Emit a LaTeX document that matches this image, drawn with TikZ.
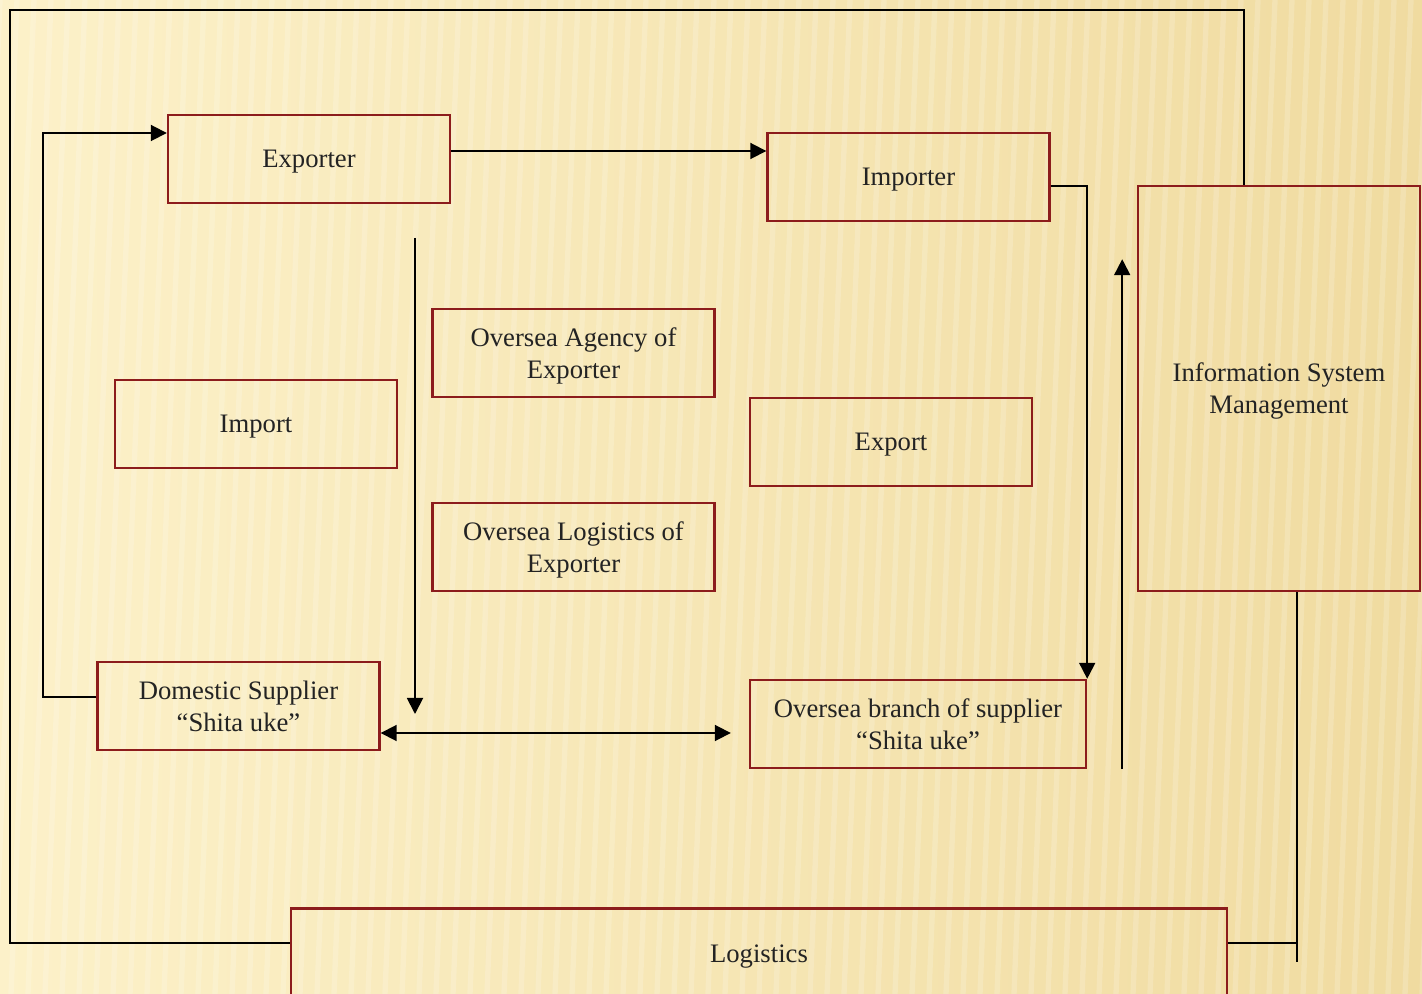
\documentclass[tikz,border=0pt]{standalone}
\usepackage{fontspec}
\setmainfont{Liberation Serif}
\usetikzlibrary{arrows.meta}
\definecolor{boxred}{RGB}{140,28,28}
\definecolor{ink}{RGB}{35,35,35}
\definecolor{paperL}{RGB}{252,241,201}
\definecolor{paperR}{RGB}{240,219,160}
\begin{document}
\begin{tikzpicture}[x=0.75pt,y=-0.75pt,
  box/.style={draw=boxred, line width=1.8pt, minimum width=211.5pt, minimum height=66pt,
    inner sep=0pt, text depth=-1pt, align=center, text=ink, font=\fontsize{20}{24}\selectfont},
  link/.style={line width=1.4pt},
  >={Triangle[length=12pt,width=12pt]}]
\useasboundingbox (0,0) rectangle (1422,994);
% paper
\shade[left color=paperL, right color=paperR] (0,0) rectangle (1422,994);
\foreach \i in {0,17,...,1470}
  \draw[white, opacity=0.18, line width=4pt] (\i,0) -- (\i-40,994);
% boxes
\node[box] (exp) at (309,159) {Exporter};
\node[box] (imp) at (908.5,177) {Importer};
\node[box, minimum height=303.75pt] (ism) at (1279,388.5) {Information System\\Management};
\node[box] (agency) at (573.5,353) {Oversea Agency of\\Exporter};
\node[box] (import) at (256,424) {Import};
\node[box] (export) at (891,442) {Export};
\node[box] (ologi) at (573.5,547) {Oversea Logistics of\\Exporter};
\node[box] (dom) at (238.5,706) {Domestic Supplier\\``Shita uke''};
\node[box, minimum width=252pt] (branch) at (918,724) {Oversea branch of supplier\\``Shita uke''};
\node[box, minimum width=702pt, minimum height=68pt] (logi) at (759,954) {Logistics};
% frame round the picture
\coordinate (top) at (1244,10);
\coordinate (tl) at (10,10);
\coordinate (bl) at (10,943);
\draw[link] (ism.north -| top) -- (top) -- (tl) -- (bl) -- (bl -| logi.west);
% ISM down to logistics
\coordinate (rx) at (1297,962);
\draw[link] (ism.south -| rx) -- (rx);
\draw[link] (logi.east |- bl) -- (bl -| rx);
% supplier back to exporter
\draw[link,->] ([yshift=6.75pt]dom.west) -- ++(-53,0) |- ([yshift=19.5pt]exp.west);
\draw[link,->] ([yshift=6pt]exp.east) -- ([yshift=6pt]exp.east -| imp.west);
\draw[link,->] ([yshift=-6.75pt]imp.east) -| (branch.north east);
% middle flows
\coordinate (v1) at (415,238);
\coordinate (v2) at (415,714);
\draw[link,->] (v1) -- (v2);
\draw[link,<->] ([yshift=-20.25pt]dom.east) -- ([xshift=-13.5pt,yshift=-20.25pt]branch.west |- dom.east);
\draw[link,->] ([xshift=26.25pt]branch.south east) -- ++(0,-510);
\end{tikzpicture}
\end{document}
